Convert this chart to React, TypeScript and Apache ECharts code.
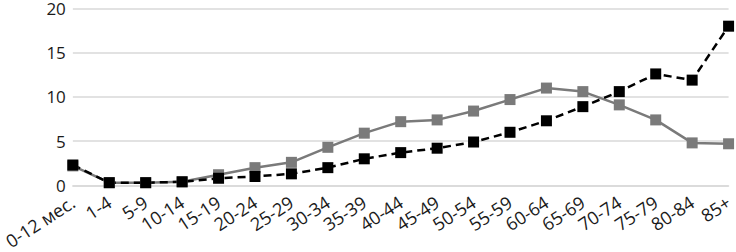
import React, { useEffect, useRef } from "react";
import * as echarts from "echarts";

const categories = ["0-12 мес.", "1-4", "5-9", "10-14", "15-19", "20-24", "25-29", "30-34", "35-39", "40-44", "45-49", "50-54", "55-59", "60-64", "65-69", "70-74", "75-79", "80-84", "85+"];
const graySeries = [2.2, 0.3, 0.3, 0.4, 1.2, 2.0, 2.6, 4.3, 5.9, 7.2, 7.4, 8.4, 9.7, 11.0, 10.6, 9.1, 7.4, 4.8, 4.7];
const blackSeries = [2.3, 0.3, 0.3, 0.4, 0.8, 1.0, 1.3, 2.0, 3.0, 3.7, 4.2, 4.9, 6.0, 7.3, 8.9, 10.6, 12.6, 11.9, 18.0];
const yTicks = { min: 0, max: 20, interval: 5 };

export default function App() {
  const ref = useRef<HTMLDivElement>(null);
  useEffect(() => {
    if (!ref.current) return;
    const chart = echarts.init(ref.current, null, { renderer: "svg" });
    const font = "'Open Sans', 'Noto Sans', sans-serif";
    chart.setOption({
      animation: false,
      grid: { left: 70, right: 6, top: 7, bottom: 66, containLabel: false },
      xAxis: {
        type: "category",
        data: categories,
        boundaryGap: false,
        axisLine: { show: true, lineStyle: { color: "#d9d9d9", width: 1.5 } },
        axisTick: { show: false },
        axisLabel: { rotate: 33, color: "#1a1a1a", fontSize: 18, fontFamily: font, margin: 15, interval: 0 },
      },
      yAxis: {
        type: "value",
        min: yTicks.min,
        max: yTicks.max,
        interval: yTicks.interval,
        axisLine: { show: false },
        axisTick: { show: false },
        splitLine: { lineStyle: { color: "#d9d9d9", width: 1.5 } },
        axisLabel: { color: "#1a1a1a", fontSize: 17, fontFamily: font, margin: 7 },
      },
      series: [
        {
          type: "line",
          data: graySeries,
          symbol: "rect",
          symbolSize: 11,
          lineStyle: { color: "#7a7a7a", width: 2.5 },
          itemStyle: { color: "#7a7a7a" },
        },
        {
          type: "line",
          data: blackSeries,
          symbol: "rect",
          symbolSize: 11,
          lineStyle: { color: "#000", width: 2.5, type: [8, 5] },
          itemStyle: { color: "#000" },
        },
      ],
    });
    return () => chart.dispose();
  }, []);
  return <div ref={ref} style={{ width: 736, height: 252, position: "absolute", left: 0, top: 0 }} />;
}
